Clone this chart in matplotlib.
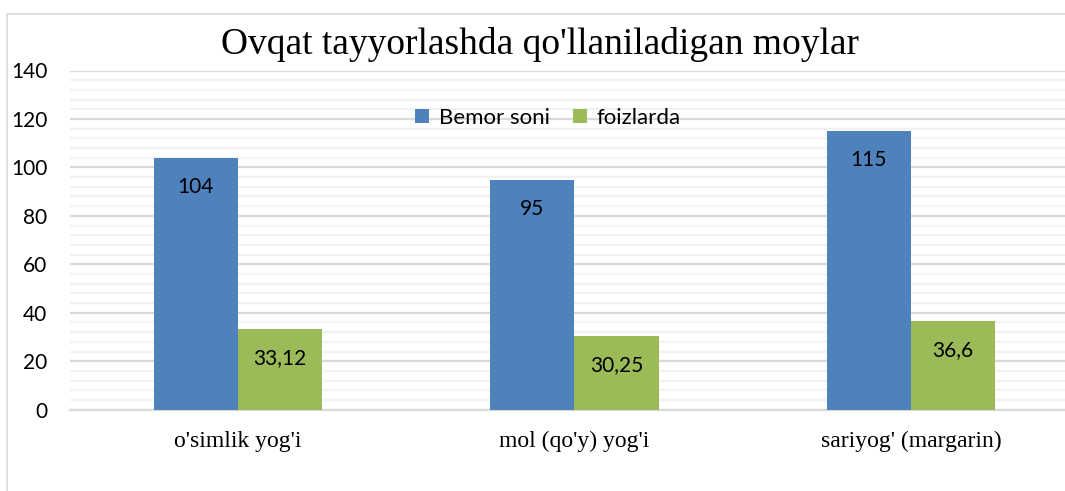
import matplotlib
matplotlib.use("Agg")
import matplotlib.pyplot as plt
from matplotlib.patches import Rectangle
from matplotlib.ticker import MultipleLocator
import numpy as np

title = "Ovqat tayyorlashda qo'llaniladigan moylar"
categories = ["o'simlik yog'i", "mol (qo'y) yog'i", "sariyog' (margarin)"]
series_names = ["Bemor soni", "foizlarda"]
bemor_soni = [104, 95, 115]
foizlarda = [33.12, 30.25, 36.6]
y_ticks = [0, 20, 40, 60, 80, 100, 120, 140]

W, H = 1065, 491
fig = plt.figure(figsize=(W / 100, H / 100), dpi=100)

# outer chart frame (cropped on right and bottom)
fig.patches.append(Rectangle((7 / W, -0.2), 2.0, (H - 14) / H + 0.2,
                             transform=fig.transFigure, fill=False,
                             edgecolor="#d9d9d9", linewidth=1.2))

ax_left = 69.75 / W
ax_w = 3 * 336.5 / W
ax_bottom = (H - 409.7) / H
ax_h = (409.7 - 70.5) / H
ax = fig.add_axes([ax_left, ax_bottom, ax_w, ax_h])

x = np.arange(len(categories))
bw = 0.25
b1 = ax.bar(x - bw / 2, bemor_soni, bw, color="#4F81BD", label=series_names[0], zorder=3)
b2 = ax.bar(x + bw / 2, foizlarda, bw, color="#9BBB59", label=series_names[1], zorder=3)

def fmt(v):
    s = f"{v:g}"
    return s.replace(".", ",")

for bars, vals in ((b1, bemor_soni), (b2, foizlarda)):
    for rect, v in zip(bars, vals):
        ax.annotate(fmt(v), (rect.get_x() + rect.get_width() / 2, v),
                    xytext=(0, -29), textcoords="offset pixels",
                    ha="center", va="center", fontsize=15, family="Lato",
                    color="#000000", zorder=4)

ax.set_xlim(-0.5, len(categories) - 0.5)
ax.set_ylim(0, 140)
ax.set_yticks(y_ticks)
ax.yaxis.set_minor_locator(MultipleLocator(4))
ax.grid(axis="y", which="major", color="#d9d9d9", linewidth=1.6, zorder=0)
ax.grid(axis="y", which="minor", color="#f2f2f2", linewidth=1.6, zorder=0)
ax.tick_params(axis="y", which="both", length=0, pad=16, labelsize=15)
ax.tick_params(axis="x", length=0, pad=15)
for lab in ax.get_yticklabels():
    lab.set_family("Lato")
ax.set_xticks(x)
ax.set_xticklabels(categories, family="Liberation Serif", fontsize=17)
for s in ("top", "right", "left"):
    ax.spines[s].set_visible(False)
ax.spines["bottom"].set_color("#d9d9d9")
ax.spines["bottom"].set_linewidth(1.6)
ax.set_facecolor("none")

fig.text(540 / W, 1 - 44 / H, title, ha="center", va="center",
         family="Liberation Serif", fontsize=27)

leg = fig.legend(loc="center", bbox_to_anchor=(548 / W, 1 - 118 / H),
                 ncol=2, frameon=False, prop={"family": "Lato", "size": 16},
                 handlelength=0.62, handleheight=0.62, handletextpad=0.45,
                 columnspacing=1.05)

fig.savefig("out.png", dpi=100)
